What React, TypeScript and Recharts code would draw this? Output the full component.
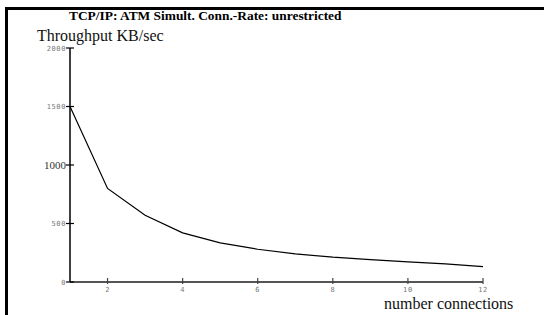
import React from "react";
import { LineChart, Line, XAxis, YAxis } from "recharts";

const connections = [1, 2, 3, 4, 5, 6, 7, 8, 9, 10, 11, 12];
const throughput = [1500, 800, 570, 420, 335, 280, 240, 212, 192, 172, 155, 132];
const xTicks = [2, 4, 6, 8, 10, 12];
const yTicks = [0, 500, 1000, 1500, 2000];

const data = connections.map((c, i) => ({ c, v: throughput[i] }));

const SERIF = "'Liberation Serif', 'Times New Roman', Times, serif";
const MONO = "'DejaVu Sans Mono', 'Liberation Mono', monospace";

const YTick = (props: any) => {
  const { x, y, payload } = props;
  const odd = payload.value === 1000;
  return (
    <g>
      <line x1={x - 4} x2={x + 4} y1={y} y2={y} stroke="#000" strokeWidth={1.2} />
      <text
        x={x - 4}
        y={y}
        dy={odd ? 3.5 : 2.5}
        textAnchor="end"
        style={{ fontFamily: odd ? SERIF : MONO }}
        fontSize={odd ? 11 : 7}
        letterSpacing={odd ? 0 : 0.6}
        fill={odd ? "#333" : "#777"}
      >
        {payload.value}
      </text>
    </g>
  );
};

const XTick = (props: any) => {
  const { x, y, payload } = props;
  return (
    <g>
      <line x1={x} x2={x} y1={y - 4} y2={y + 2} stroke="#444" strokeWidth={1.2} />
      <text
        x={x}
        y={y + 10}
        textAnchor="middle"
        style={{ fontFamily: MONO }}
        fontSize={7}
        letterSpacing={0.6}
        fill="#777"
      >
        {payload.value}
      </text>
    </g>
  );
};

export default function App() {
  return (
    <div style={{ position: "absolute", left: 0, top: 0, width: 544, height: 315, background: "#fff", overflow: "hidden" }}>
      <div style={{ position: "absolute", left: 5, top: 7, width: 539, height: 3, background: "#000" }} />
      <div style={{ position: "absolute", left: 5, top: 7, width: 3, height: 308, background: "#000" }} />
      <div
        style={{
          position: "absolute",
          left: 69,
          top: 8,
          fontFamily: SERIF,
          fontWeight: "bold",
          fontSize: 13.4,
          whiteSpace: "nowrap",
          color: "#000",
        }}
      >
        TCP/IP: ATM Simult. Conn.-Rate: unrestricted
      </div>
      <div
        style={{
          position: "absolute",
          left: 37,
          top: 27,
          fontFamily: SERIF,
          fontSize: 16,
          whiteSpace: "nowrap",
          color: "#111",
        }}
      >
        Throughput KB/sec
      </div>
      <div
        style={{
          position: "absolute",
          left: 384,
          top: 295,
          fontFamily: SERIF,
          fontSize: 16,
          whiteSpace: "nowrap",
          color: "#111",
        }}
      >
        number connections
      </div>
      <div style={{ position: "absolute", left: 0, top: 0 }}>
        <LineChart width={544} height={315} data={data} margin={{ top: 48, right: 61, left: 69, bottom: 32 }}>
          <XAxis
            dataKey="c"
            type="number"
            domain={[1, 12]}
            ticks={xTicks}
            height={1}
            tickSize={0}
            tickMargin={0}
            tickLine={false}
            axisLine={{ stroke: "#555", strokeWidth: 2 }}
            tick={<XTick />}
            interval={0}
          />
          <YAxis
            type="number"
            domain={[0, 2000]}
            ticks={yTicks}
            width={1}
            tickSize={0}
            tickMargin={0}
            tickLine={false}
            axisLine={{ stroke: "#000", strokeWidth: 1.5 }}
            tick={<YTick />}
            interval={0}
          />
          <Line dataKey="v" stroke="#000" strokeWidth={1.2} dot={false} isAnimationActive={false} />
        </LineChart>
      </div>
    </div>
  );
}
